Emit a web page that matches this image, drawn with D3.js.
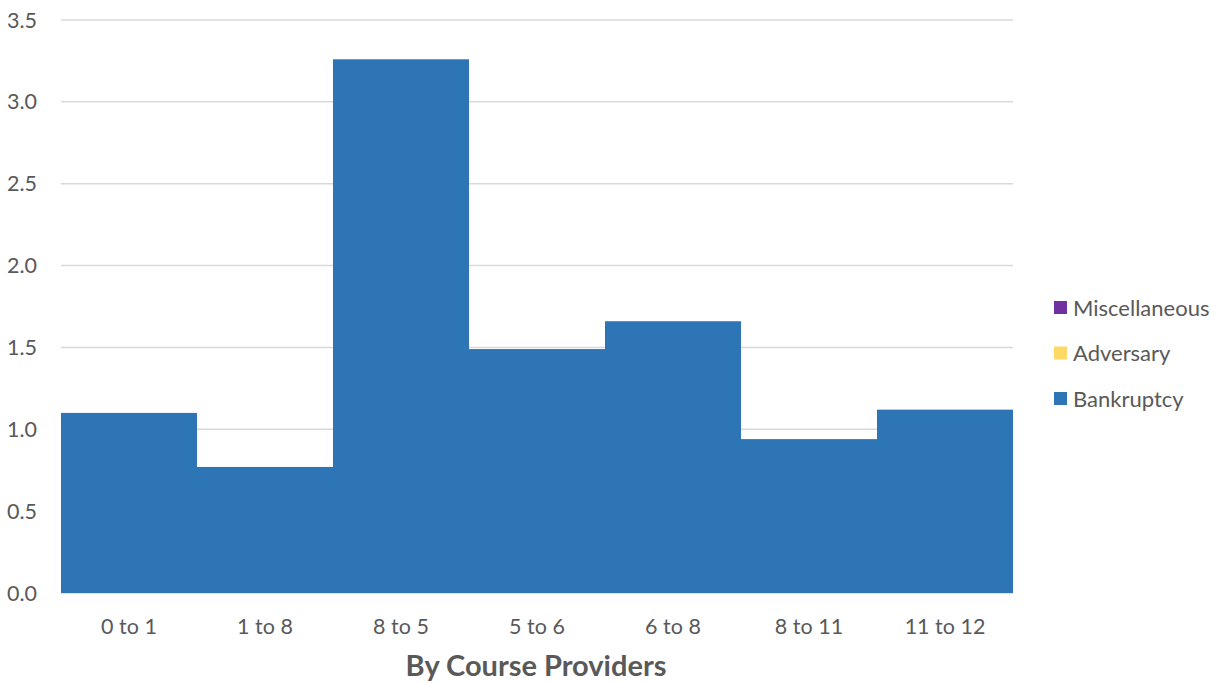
<!DOCTYPE html>
<html><head><meta charset="utf-8">
<script src="https://cdn.jsdelivr.net/npm/d3@7"></script>
<style>body{margin:0;background:#fff}svg{display:block}</style>
</head><body><svg id="c" width="1222" height="683"></svg>
<script>
const categories = ["0 to 1","1 to 8","8 to 5","5 to 6","6 to 8","8 to 11","11 to 12"];
const bankruptcy = [1.10, 0.77, 3.26, 1.49, 1.66, 0.94, 1.12];
const adversary = [0, 0, 0, 0, 0, 0, 0];
const miscellaneous = [0, 0, 0, 0, 0, 0, 0];
const seriesNames = ["Bankruptcy","Adversary","Miscellaneous"];
const seriesColors = ["#2E75B6","#FFD966","#7030A0"];
const yTicks = [0,0.5,1,1.5,2,2.5,3,3.5];
const title = "By Course Providers";

const svg = d3.select("#c");
const font = "Lato, 'Open Sans', sans-serif";
const m = {l:61, r:1013, t:20, b:593};
const x = d3.scaleBand().domain(categories).range([m.l, m.r]).padding(0);
const y = d3.scaleLinear().domain([0,3.5]).range([m.b, m.t]);

// gridlines
svg.append("g").selectAll("line").data(yTicks).join("line")
  .attr("x1", m.l).attr("x2", m.r)
  .attr("y1", d=>y(d)).attr("y2", d=>y(d))
  .attr("stroke","#d9d9d9").attr("stroke-width",1.5);

// y labels
svg.append("g").selectAll("text").data(yTicks).join("text")
  .attr("x", 37).attr("y", d=>y(d)).attr("dy","0.35em")
  .attr("text-anchor","end").attr("fill","#595959")
  .style("font-family",font).style("font-size","21.5px")
  .text(d=>d3.format(".1f")(d));

// stacked data
const rows = categories.map((c,i)=>({cat:c, Bankruptcy:bankruptcy[i], Adversary:adversary[i], Miscellaneous:miscellaneous[i]}));
const stack = d3.stack().keys(seriesNames)(rows);
svg.append("g").selectAll("g").data(stack).join("g")
  .attr("fill",(d,i)=>seriesColors[i])
  .selectAll("rect").data(d=>d.filter(p=>p[1]-p[0]>0)).join("rect")
  .attr("x", d=>x(d.data.cat)).attr("width", x.bandwidth())
  .attr("y", d=>y(d[1])).attr("height", d=>y(d[0])-y(d[1]));

// x labels
svg.append("g").selectAll("text").data(categories).join("text")
  .attr("x", d=>x(d)+x.bandwidth()/2).attr("y", 626).attr("dy","0.35em")
  .attr("text-anchor","middle").attr("fill","#595959")
  .style("font-family",font).style("font-size","21.5px")
  .text(d=>d);

// title
svg.append("text").attr("x", 536).attr("y", 666).attr("dy","0.35em")
  .attr("text-anchor","middle").attr("fill","#595959")
  .style("font-family",font).style("font-size","29px").style("font-weight","bold")
  .text(title);

// legend (reverse order)
const legendItems = seriesNames.map((n,i)=>({n, c:seriesColors[i]})).reverse();
const lg = svg.append("g");
legendItems.forEach((d,i)=>{
  const cy = 308 + i*45.5;
  lg.append("rect").attr("x",1054).attr("y",cy-7).attr("width",13).attr("height",13).attr("fill",d.c);
  lg.append("text").attr("x",1073).attr("y",cy).attr("dy","0.35em")
    .attr("fill","#595959").style("font-family",font).style("font-size","22px").text(d.n);
});
</script></body></html>
